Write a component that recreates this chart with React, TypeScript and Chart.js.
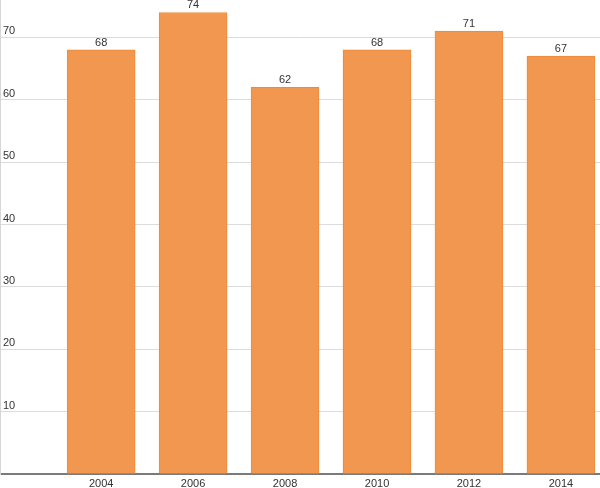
import { useEffect, useRef } from "react";
import { Chart, registerables } from "chart.js";

Chart.register(...registerables);

const years = [2004, 2006, 2008, 2010, 2012, 2014];
const values = [68, 74, 62, 68, 71, 67];
const yTicks = [10, 20, 30, 40, 50, 60, 70];

const FONT = "11px Arial, 'Liberation Sans', sans-serif";

// valeurs au-dessus des barres + libellés de l'axe Y dessinés dans la zone du graphique
const labelsPlugin = {
  id: "labelsPlugin",
  afterDatasetsDraw(chart: Chart) {
    const { ctx, chartArea } = chart;
    const yScale = chart.scales.y;
    const meta = chart.getDatasetMeta(0);
    ctx.save();
    ctx.font = FONT;
    ctx.fillStyle = "#333";
    ctx.textBaseline = "alphabetic";

    ctx.textAlign = "center";
    meta.data.forEach((bar: any, i: number) => {
      ctx.fillText(String(values[i]), bar.x, bar.y - 4);
    });

    ctx.textAlign = "left";
    yTicks.forEach((v) => {
      ctx.fillText(String(v), chartArea.left + 3, yScale.getPixelForValue(v) - 3);
    });
    ctx.restore();
  },
};

export default function App() {
  const canvasRef = useRef<HTMLCanvasElement>(null);

  useEffect(() => {
    document.body.style.margin = "0";
    if (!canvasRef.current) return;

    const chart = new Chart(canvasRef.current, {
      type: "bar",
      data: {
        datasets: [
          {
            data: years.map((y, i) => ({ x: y, y: values[i] })),
            backgroundColor: "#f29750",
            borderColor: "#ef8a35",
            borderWidth: 1,
            barThickness: 68,
          },
        ],
      },
      options: {
        animation: false,
        responsive: true,
        maintainAspectRatio: false,
        layout: { padding: { left: 0, right: 0, top: 0, bottom: -5 } },
        plugins: {
          legend: { display: false },
          tooltip: { enabled: false },
        },
        scales: {
          x: {
            type: "linear",
            offset: false,
            min: 2001.8,
            max: 2014.85,
            afterBuildTicks: (axis: any) => {
              axis.ticks = years.map((v) => ({ value: v }));
            },
            grid: { display: false, drawTicks: false },
            border: { display: true, color: "#7a7a7a", width: 2 },
            ticks: {
              color: "#333",
              font: { family: "Arial, 'Liberation Sans', sans-serif", size: 11, lineHeight: 1 },
              padding: 4,
              maxRotation: 0,
              autoSkip: false,
              callback: (v: any) => String(v),
            },
          },
          y: {
            min: 0,
            max: 76,
            afterBuildTicks: (axis: any) => {
              axis.ticks = [0, ...yTicks].map((v) => ({ value: v }));
            },
            grid: { color: "#dcdcdc", drawTicks: false },
            border: { display: true, color: "#d6d6d6" },
            ticks: { display: false },
          },
        },
      },
      plugins: [labelsPlugin],
    });

    return () => {
      chart.destroy();
    };
  }, []);

  return (
    <div style={{ width: "600px", height: "488px", position: "relative" }}>
      <canvas ref={canvasRef} />
    </div>
  );
}
